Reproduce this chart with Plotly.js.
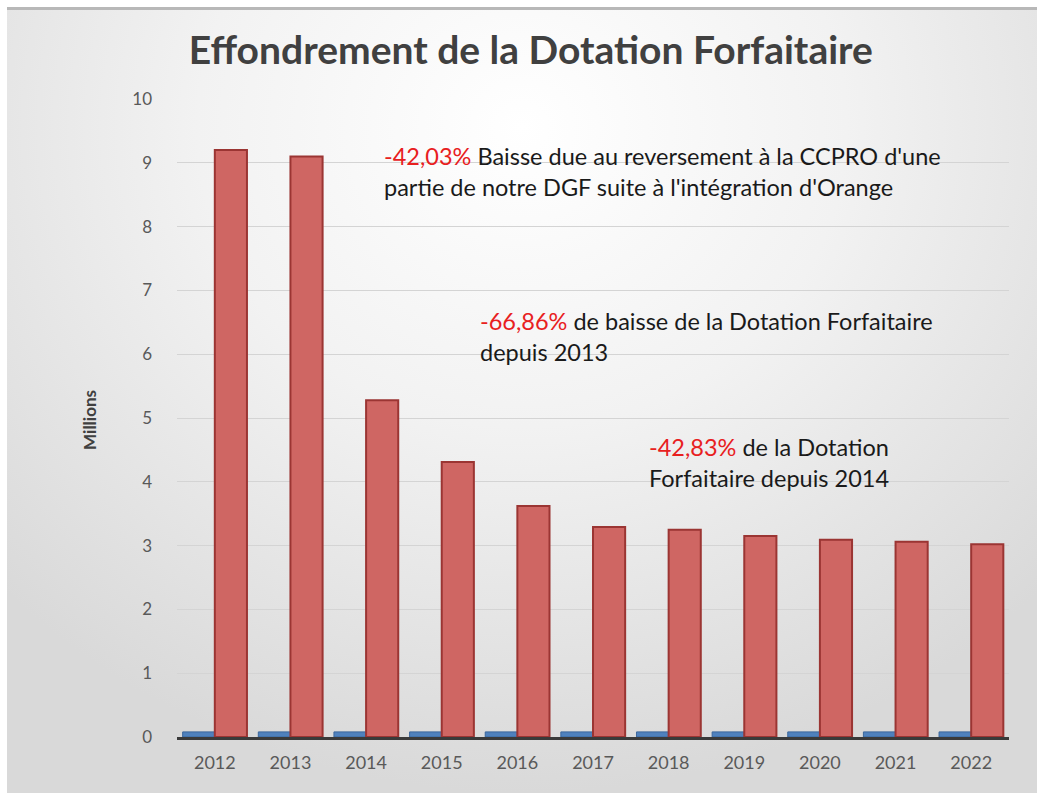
<!DOCTYPE html>
<html>
<head>
<meta charset="utf-8">
<script src="https://cdn.plot.ly/plotly-3.0.1.min.js"></script>
<style>
  html, body { margin: 0; padding: 0; background: #ffffff; }
  #frame {
    position: absolute; left: 7px; top: 7px; width: 1030px; height: 783px;
    border-top: 3px solid #b8b8b8;
    background: radial-gradient(ellipse 70% 85% at 50% 15%, #ffffff 0%, #f2f2f2 45%, #d9d9d9 100%);
  }
  #chart { position: absolute; left: 0; top: 0; width: 1045px; height: 797px; }
</style>
</head>
<body>
<div id="frame"></div>
<div id="chart"></div>
<script>
// ---- data ----
const years = ["2012","2013","2014","2015","2016","2017","2018","2019","2020","2021","2022"];
const dotationForfaitaire = [9.20, 9.10, 5.28, 4.31, 3.62, 3.29, 3.25, 3.15, 3.09, 3.06, 3.02];
const autreSerie = [0.08, 0.08, 0.08, 0.08, 0.08, 0.08, 0.08, 0.08, 0.08, 0.08, 0.08];
const yTicks = [0,1,2,3,4,5,6,7,8,9,10];
const chartTitle = "Effondrement de la Dotation Forfaitaire";
const yTitle = "Millions";
const notes = [
  {pct: "-42,03%", text: " Baisse due au reversement à la CCPRO d'une<br>partie de notre DGF suite à l'intégration d'Orange"},
  {pct: "-66,86%", text: " de baisse de la Dotation Forfaitaire<br>depuis 2013"},
  {pct: "-42,83%", text: " de la Dotation<br>Forfaitaire depuis 2014"}
];

// ---- plot ----
const FONT = "Lato, 'Open Sans', sans-serif";
const traces = [
  {
    type: "bar", x: years, y: autreSerie, name: "",
    marker: {color: "#4f81bd", line: {color: "#3b679c", width: 1}},
    hoverinfo: "skip", showlegend: false
  },
  {
    type: "bar", x: years, y: dotationForfaitaire, name: "Dotation Forfaitaire",
    marker: {color: "#cf6663", line: {color: "#9b3533", width: 2}},
    showlegend: false
  }
];

const annPos = [
  {x: 0.2464, y: 0.8856},
  {x: 0.3618, y: 0.6285},
  {x: 0.5649, y: 0.431}
];
const annotations = notes.map((n, i) => ({
  xref: "paper", yref: "paper", x: annPos[i].x, y: annPos[i].y,
  xanchor: "left", yanchor: "middle", align: "left", showarrow: false,
  text: '<span style="color:#e8201e">' + n.pct + '</span>' + n.text,
  font: {family: FONT, size: 23.5, color: "#1a1a1a"}
}));
annotations.push({
  xref: "paper", yref: "paper", x: -0.1046, y: 0.497, textangle: -90,
  xanchor: "center", yanchor: "middle", showarrow: false,
  text: "<b>" + yTitle + "</b>",
  font: {family: FONT, size: 17, color: "#404040"}
});

const layout = {
  width: 1045, height: 797,
  paper_bgcolor: "rgba(0,0,0,0)", plot_bgcolor: "rgba(0,0,0,0)",
  margin: {l: 177, r: 36, t: 99, b: 60},
  title: {
    text: "<b>" + chartTitle + "</b>",
    xref: "container", yref: "container", x: 0.508, y: 0.937,
    xanchor: "center", yanchor: "middle",
    font: {family: FONT, size: 39, color: "#404040"}
  },
  barmode: "group", bargap: 0.15, bargroupgap: 0,
  xaxis: {
    type: "category", showline: true, linecolor: "#3a3a3a", linewidth: 3,
    showgrid: false, ticks: "", ticklabelstandoff: 7,
    tickfont: {family: FONT, size: 18, color: "#595959"}
  },
  yaxis: {
    range: [0, 10], tickvals: yTicks, showgrid: true, gridcolor: "#d4d4d4", gridwidth: 1,
    zeroline: false, showline: false, ticks: "", ticklabelstandoff: 24,
    tickfont: {family: FONT, size: 17, color: "#595959"}
  },
  annotations: annotations
};

Plotly.newPlot("chart", traces, layout, {displayModeBar: false, staticPlot: true});
</script>
</body>
</html>
